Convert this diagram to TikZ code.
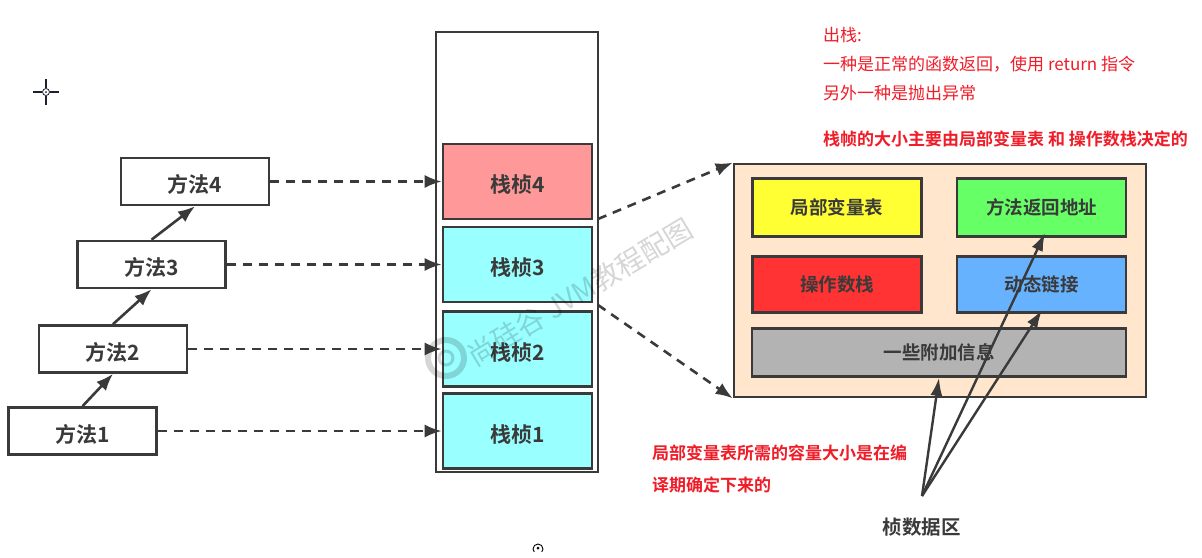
\documentclass[tikz,border=0pt]{standalone}
\usepackage{fontspec}
\setmainfont{Noto Sans CJK SC}
\newfontfamily\cjkb{Noto Sans CJK SC Bold}
\usetikzlibrary{arrows.meta}
\definecolor{ink}{HTML}{3A3A3A}
\definecolor{redtxt}{HTML}{F01C28}
\definecolor{frameRed}{HTML}{FF9999}
\definecolor{frameCyan}{HTML}{99FFFF}
\definecolor{panelBg}{HTML}{FFE6CC}
\definecolor{cYellow}{HTML}{FFFF33}
\definecolor{cGreen}{HTML}{66FF66}
\definecolor{cRed}{HTML}{FF3333}
\definecolor{cBlue}{HTML}{66B2FF}
\definecolor{cGrey}{HTML}{B3B3B3}
\definecolor{cursorInk}{HTML}{1E2030}
\tikzset{
  x=1pt,y=-1pt,
  box/.style={draw=ink,line width=2.6pt,fill=white,inner sep=0pt,text=ink,text height=24pt,text depth=2pt,font=\cjkb\fontsize{21}{21}\selectfont},
  small/.style={draw=ink,line width=2.6pt,inner sep=0pt,text=ink,text height=17pt,text depth=3pt,font=\cjkb\fontsize{18.5}{18.5}\selectfont},
  solidarrow/.style={draw=ink,line width=2.6pt,-{Latex[length=17pt,width=13pt]}},
  dasharrow/.style={draw=ink,line width=2.6pt,dash pattern=on 9pt off 7pt,-{Latex[length=17pt,width=13pt]}},
  thinarrow/.style={draw=ink,line width=2.4pt,-{Latex[length=18pt,width=12pt]}},
  rednote/.style={anchor=west,inner sep=0pt,text=redtxt,font=\fontsize{17}{17}\selectfont},
  redbold/.style={anchor=west,inner sep=0pt,text=redtxt,font=\cjkb\fontsize{17}{17}\selectfont},
  mk/.style={box,minimum width=148pt,minimum height=47pt},
  fr/.style={box,minimum width=149pt,minimum height=75pt}
}
\begin{document}
\begin{tikzpicture}
\useasboundingbox (0,0) rectangle (1202,557);
\fill[white] (0,0) rectangle (1202,557);

% stack outer
\node[draw=ink,line width=2.6pt,fill=white,inner sep=0pt,minimum width=162pt,minimum height=440pt] (stack) at (517,252) {};

% frames
\node[fr,fill=frameRed] (f4) at (517.5,181.5) {栈桢4};
\node[fr,fill=frameCyan] (f3) at (517.5,264.5) {栈桢3};
\node[fr,fill=frameCyan] (f2) at (517.5,349) {栈桢2};
\node[fr,fill=frameCyan] (f1) at (517.5,431) {栈桢1};

% methods
\node[mk] (m4) at (195,181.5) {方法4};
\node[mk] (m3) at (151.5,264.5) {方法3};
\node[mk] (m2) at (113,349) {方法2};
\node[mk] (m1) at (82.5,431) {方法1};

% watermark
\begin{scope}[opacity=.16]
\node[rotate=31,inner sep=0pt,text=black,font=\fontsize{28}{28}\selectfont] (wm) at (580,292) {尚硅谷 JVM教程配图};
\node[circle,draw=black,line width=6pt,minimum size=36pt,inner sep=0pt] (wmlogo) at (446,358) {};
\node[circle,draw=black,line width=3pt,minimum size=14pt,inner sep=0pt] (wmlogoin) at (446,358) {};
\end{scope}

% detail panel
\node[draw=ink,line width=2.6pt,fill=panelBg,inner sep=0pt,minimum width=412pt,minimum height=233pt] (panel) at (940,280.5) {};
\node[small,fill=cYellow,minimum width=169pt,minimum height=58pt] (lv) at (837,207.5) {局部变量表};
\node[small,fill=cGreen,minimum width=169pt,minimum height=58pt] (ret) at (1041.5,207.5) {方法返回地址};
\node[small,fill=cRed,minimum width=169pt,minimum height=56pt] (ops) at (837,284.5) {操作数栈};
\node[small,fill=cBlue,minimum width=169pt,minimum height=56pt] (dyn) at (1041.5,284.5) {动态链接};
\node[small,fill=cGrey,minimum width=374pt,minimum height=48pt] (extra) at (939,352.5) {一些附加信息};

% method chain
\draw[solidarrow] (m1.north) -- (m2.south);
\draw[solidarrow] (m2.north) -- (m3.south);
\draw[solidarrow] (m3.north) -- (m4.south);

% dashed calls
\draw[dasharrow] (m4) -- (f4.west);
\draw[dasharrow] (m3) -- (f3.west);
\draw[dasharrow] (m2) -- (f2.west);
\draw[dasharrow] (m1) -- (f1.west);

% panel connectors
\coordinate (u) at (598,219);
\coordinate (l) at (598,305);
\draw[dasharrow] (u) -- (panel.north west);
\draw[dasharrow] (l) -- (panel.south west);

% data area
\node[inner sep=0pt,text=ink,font=\cjkb\fontsize{19.5}{20}\selectfont] (data) at (921.5,527) {桢数据区};
\coordinate (hub) at (922,496);
\coordinate (t2) at (1042,310);
\coordinate (t3) at (1045,233);
\draw[thinarrow] (hub) -- (extra.south);
\draw[thinarrow] (hub) -- (t2);
\draw[thinarrow] (hub) -- (t3);

% red notes
\node[rednote] (n1) at (823,35) {出栈:};
\node[rednote] (n2) at (823,64) {一种是正常的函数返回，使用 return 指令};
\node[rednote] (n3) at (823,93) {另外一种是抛出异常};
\node[redbold] (n4) at (823,139) {栈帧的大小主要由局部变量表 和 操作数栈决定的};
\node[redbold] (n5) at (652,453) {局部变量表所需的容量大小是在编};
\node[redbold] (n6) at (652,485) {译期确定下来的};

% cursor
\coordinate (c) at (46,92);
\draw[cursorInk,line width=2pt] (33,92) -- (42,92) (50,92) -- (59,92) (46,79) -- (46,88) (46,96) -- (46,105);
\draw[cursorInk,line width=.8pt] (c) circle (3.5);
\fill[cursorInk] (c) circle (1);

% screenshot fragment
\draw[black,line width=.9pt] (538,549) circle (5);
\fill[black] (538,548) circle (1.5);
\fill[white] (530,552) rectangle (546,557);
\end{tikzpicture}
\end{document}
